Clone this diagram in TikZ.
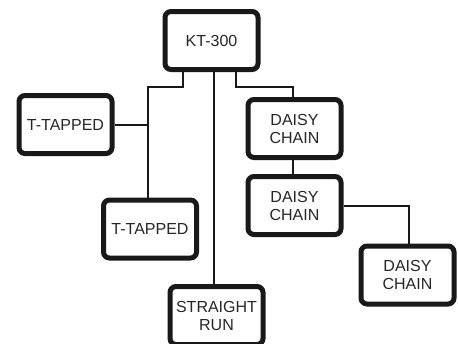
\documentclass[tikz,border=0pt]{standalone}
\usepackage{fontspec}
\setmainfont{Liberation Sans}
\begin{document}
\begin{tikzpicture}[x=1pt,y=-1pt,
  box/.style={draw=black!90,line width=5pt,rounded corners=6pt,minimum width=93pt,minimum height=58pt,inner sep=0pt,align=center,font=\fontsize{16}{18}\selectfont,text=black!85},
  wire/.style={draw=black!90,line width=2pt}]
\useasboundingbox (0,0) rectangle (458,343);
\node[box] (KT) at (211.5,40.5) {KT-300};
\node[box] (T1) at (65.5,124.5) {T-TAPPED};
\node[box] (D1) at (294.5,128.5) {DAISY\\CHAIN};
\node[box] (T2) at (150,229) {T-TAPPED};
\node[box] (SR) at (216.5,315.5) {STRAIGHT\\RUN};
\node[box] (D2) at (294.5,205.5) {DAISY\\CHAIN};
\node[box] (D3) at (407.5,275) {DAISY\\CHAIN};
\coordinate (j1) at (148,87);
\coordinate (j2) at (293,87);
\coordinate (j3) at (409,206);
\draw[wire] ([xshift=-28.5pt]KT.south) |- (j1) -- (j1 |- T2.north);
\draw[wire] (T1.east) -- (T1.east -| j1);
\draw[wire] ([xshift=2.5pt]KT.south) -- ([xshift=2.5pt]KT.south |- SR.north);
\draw[wire] ([xshift=24.5pt]KT.south) |- (j2) -- (j2 |- D1.north);
\draw[wire] (j2 |- D1.south) -- (j2 |- D2.north);
\draw[wire] (D2.east |- j3) -- (j3) -- (j3 |- D3.north);
\end{tikzpicture}
\end{document}
